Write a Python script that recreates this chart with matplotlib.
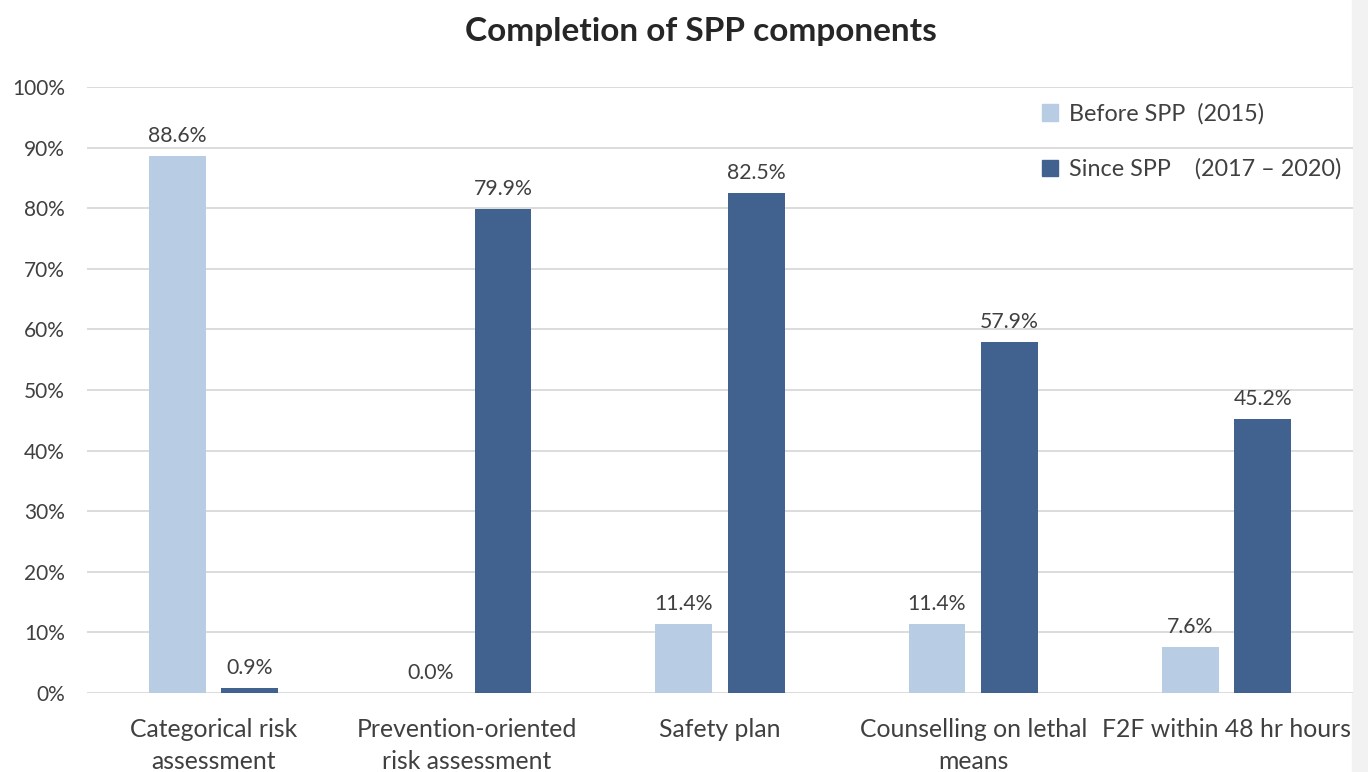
import matplotlib
matplotlib.use("Agg")
import matplotlib.pyplot as plt
import numpy as np
from matplotlib.patches import Rectangle, Patch

plt.rcParams['font.family'] = ['Lato', 'DejaVu Sans']

categories = ["Categorical risk\nassessment", "Prevention-oriented\nrisk assessment",
              "Safety plan", "Counselling on lethal\nmeans", "F2F within 48 hr hours"]
before = [88.6, 0.0, 11.4, 11.4, 7.6]
since = [0.9, 79.9, 82.5, 57.9, 45.2]
series_labels = ["Before SPP  (2015)", "Since SPP    (2017 – 2020)"]
title = "Completion of SPP components"

c_before = "#B8CCE4"
c_since = "#41628E"
tc = "#404040"

fig = plt.figure(figsize=(13.68, 7.72), dpi=100)
W, H = 1368, 772
ax = fig.add_axes([87 / W, 1 - 693 / H, (1353 - 87) / W, (693 - 87) / H])

x = np.arange(len(categories))
bw = 0.225
off = 0.143
b1 = ax.bar(x - off, before, bw, color=c_before, zorder=3)
b2 = ax.bar(x + off, since, bw, color=c_since, zorder=3)

for bars, vals in ((b1, before), (b2, since)):
    for r, v in zip(bars, vals):
        ax.annotate(f"{v:.1f}%", (r.get_x() + r.get_width() / 2, v),
                    xytext=(0, 7), textcoords="offset points",
                    ha="center", va="bottom", fontsize=15.3, color=tc)

ax.set_xlim(-0.5, len(categories) - 0.5)
ax.set_ylim(0, 100)
ax.set_yticks(np.arange(0, 101, 10))
ax.set_yticklabels([f"{v}%" for v in range(0, 101, 10)], fontsize=15, color=tc)
ax.set_xticks(x)
ax.set_xticklabels(categories, fontsize=17.8, color=tc, linespacing=1.45)
ax.tick_params(axis='both', length=0)
ax.tick_params(axis='y', pad=16)
ax.tick_params(axis='x', pad=18)
ax.grid(axis='y', color="#D9D9D9", linewidth=1.3, zorder=0)
ax.set_axisbelow(True)
for s in ax.spines.values():
    s.set_visible(False)

fig.text(701 / W, 1 - 32 / H, title, ha="center", va="center",
         fontsize=24, fontweight="bold", color="#262626")

handles = [Patch(color=c_before), Patch(color=c_since)]
leg = fig.legend(handles, series_labels, loc="upper left",
                 bbox_to_anchor=(1021 / W, 1 - 82 / H), frameon=False,
                 fontsize=16.8, handlelength=0.7, handleheight=0.7,
                 handletextpad=0.45, labelspacing=1.45)
for t in leg.get_texts():
    t.set_color(tc)

fig.patches.append(Rectangle((1352 / W, 0), 16 / W, 1, transform=fig.transFigure,
                             color="#F2F2F2", zorder=-1))

fig.savefig("out.png", dpi=100)
